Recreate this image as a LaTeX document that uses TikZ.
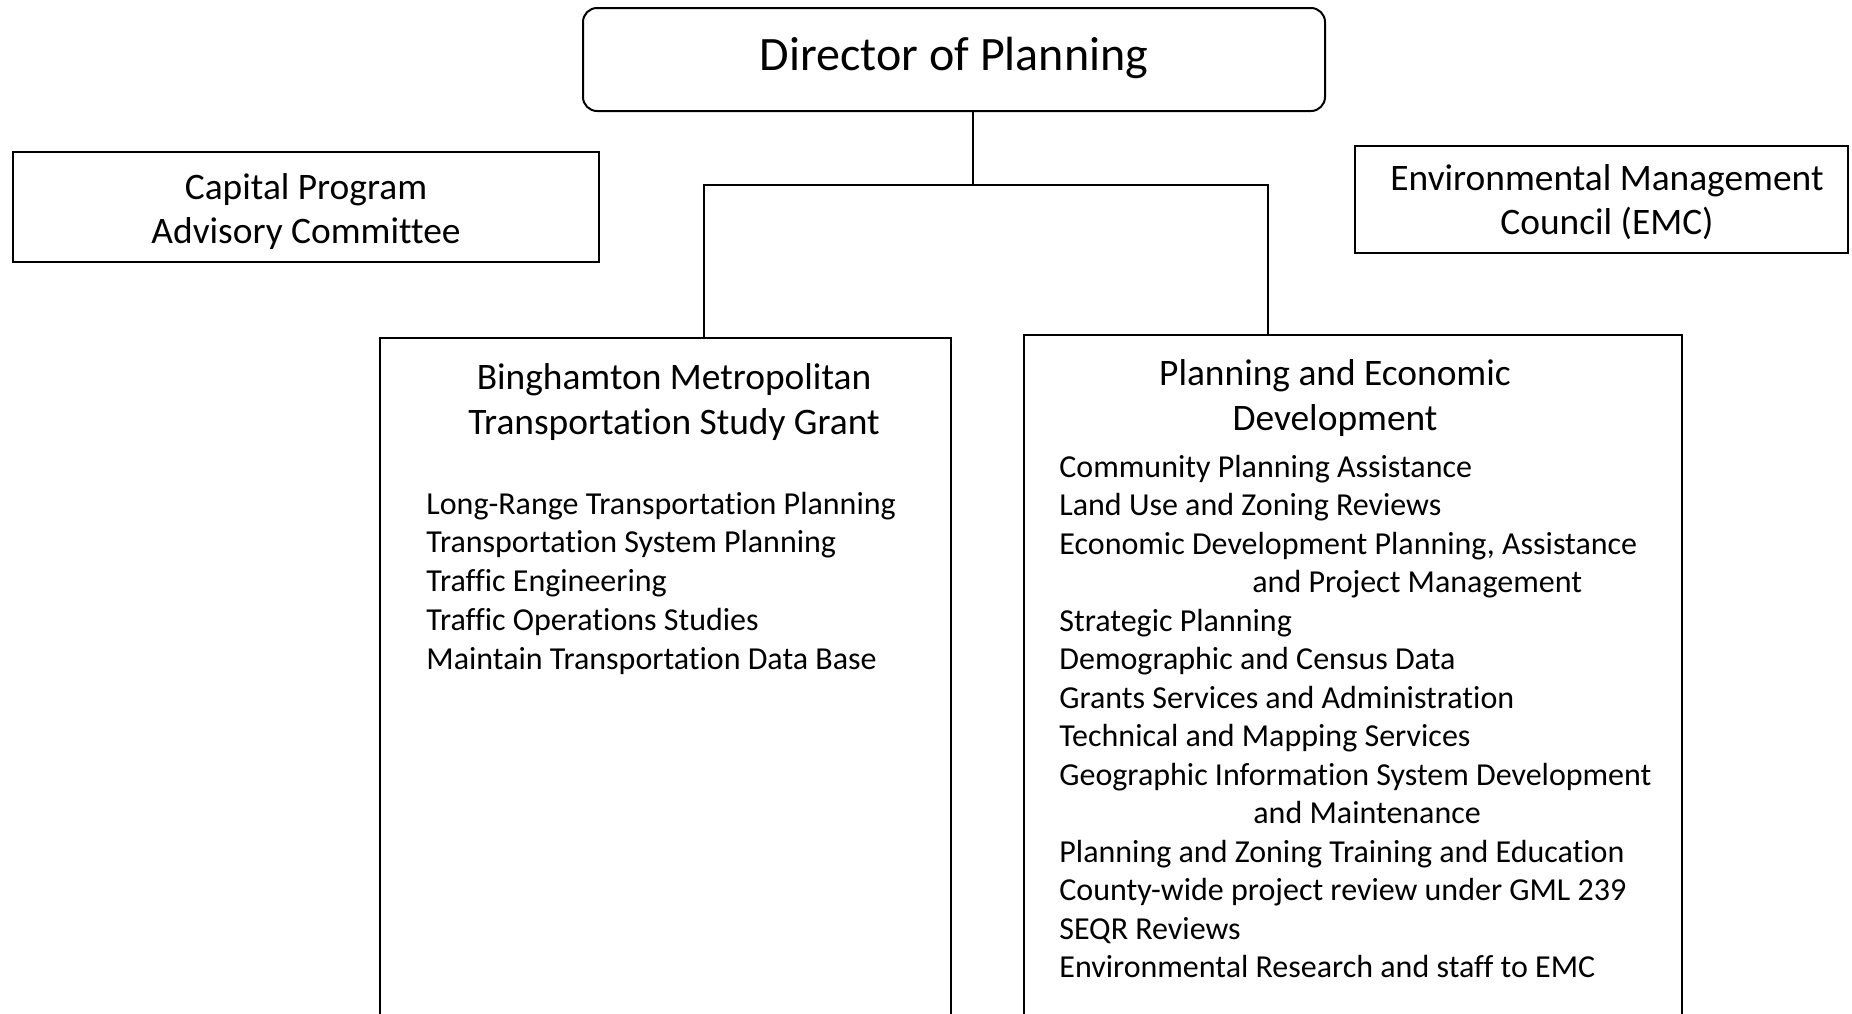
\documentclass[tikz,border=0pt]{standalone}
\usepackage{fontspec}
\setmainfont{Carlito}[Ligatures=NoCommon]
\begin{document}
\begin{tikzpicture}[x=0.5pt,y={(0pt,-0.5pt)},
  box/.style={draw, line width=1pt, inner sep=0pt},
  conn/.style={line width=0.7pt},
  txt/.style={align=center, inner sep=0pt, font=\fontsize{18.7}{22}\selectfont},
  title/.style={align=center, inner sep=0pt, font=\fontsize{18.7}{22.5}\selectfont},
  item/.style={anchor=west, inner sep=0pt, font=\fontsize{16}{18}\selectfont, text height=0.7em, text depth=0.2em}]
\useasboundingbox (0,0) rectangle (1852,1013);
\node[box, rounded corners=7pt, minimum width=371pt, minimum height=51.5pt] (dir) at (954,59.5) {};
\node[inner sep=0pt, font=\fontsize{24}{28}\selectfont] (dirT) at (954,57.5) {Director of Planning};
\node[box, minimum width=293pt, minimum height=55pt] (cap) at (306,207) {};
\node[txt] (capT) at (306,212) {Capital Program\\Advisory Committee};
\node[box, minimum width=246.5pt, minimum height=53.5pt] (emc) at (1601.5,199.5) {};
\node[txt] (emcT) at (1607,202.5) {Environmental Management\\Council (EMC)};
\node[box, minimum width=285.5pt, minimum height=361pt] (bmts) at (665.5,699) {};
\node[box, minimum width=329pt, minimum height=362.5pt] (ped) at (1353,697.5) {};
\node[title] (bmtsT) at (674,402) {Binghamton Metropolitan\\Transportation Study Grant};
\node[title] (pedT) at (1335,398) {Planning and Economic\\Development};
\coordinate (j) at (973,185);
\coordinate (jl) at (704,185);
\coordinate (jr) at (1268,185);
\draw[conn] (j |- dir.south) -- (j);
\draw[conn] (jl |- bmts.north) -- (jl) -- (jr) -- (jr |- ped.north);
\foreach \t [count=\i] in {Long-Range Transportation Planning, Transportation System Planning, Traffic Engineering, Traffic Operations Studies, Maintain Transportation Data Base}
  \node[item] (l\i) at (426, {509+(\i-1)*38.8}) {\t};
\foreach \t/\xx [count=\i] in {Community Planning Assistance/1059, Land Use and Zoning Reviews/1059, {Economic Development Planning, Assistance}/1059, and Project Management/1252, Strategic Planning/1059, Demographic and Census Data/1059, Grants Services and Administration/1059, Technical and Mapping Services/1059, Geographic Information System Development/1059, and Maintenance/1253, Planning and Zoning Training and Education/1059, County-wide project review under GML 239/1059, SEQR Reviews/1059, Environmental Research and staff to EMC/1059}
  \node[item] (r\i) at (\xx, {472+(\i-1)*38.52}) {\t};
\end{tikzpicture}
\end{document}
